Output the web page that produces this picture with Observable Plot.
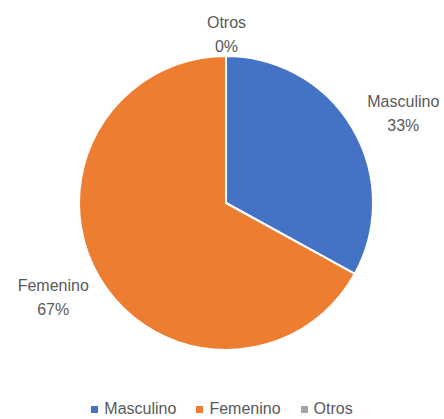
<!DOCTYPE html>
<html>
<head>
<meta charset="utf-8">
<script src="https://cdn.jsdelivr.net/npm/d3@7"></script>
<script src="https://cdn.jsdelivr.net/npm/@observablehq/plot@0.6"></script>
<style>
  html, body { margin: 0; padding: 0; background: #fff; overflow: hidden; }
  #chart { width: 444px; }
  .legend { display: flex; justify-content: center; align-items: center; height: 18px; line-height: 18px;
    font-family: "Liberation Sans", Arial, sans-serif; font-size: 16px; color: #595959; }
  .legend .item { display: flex; align-items: center; margin: 0 10px; }
  .legend .sw { width: 7px; height: 7px; margin-right: 6px; }
</style>
</head>
<body>
<div id="chart"></div>
<script>
const categories = ["Masculino", "Femenino", "Otros"];
const values = [33, 67, 0];
const labels = ["33%", "67%", "0%"];
const colors = ["#4472C4", "#ED7D31", "#A5A5A5"];

const W = 444, H = 400;
const cx = 226, cy = 203, R = 147;

const data = categories.map((c, i) => ({category: c, value: values[i], label: labels[i]}));
const color = Plot.scale({color: {domain: categories, range: colors}});
const arcs = d3.pie().sort(null).value(d => d.value)(data);

const fontSize = 16;
const lineH = 24;
const labelData = arcs.map(a => {
  const th = (a.startAngle + a.endAngle) / 2;
  const s = Math.sin(th), c = Math.cos(th);
  const w = a.data.category.length * 8.2;
  const h = lineH * 2;
  const pad = 25 * Math.abs(s);
  const x = cx + (R + pad) * s + (w / 2) * s;
  const y = cy - (R + pad) * c - (h / 2) * c * Math.abs(c);
  return {x, y, text: a.data.category + "\n" + a.data.label};
});

const pieMark = () => {
  const g = d3.create("svg:g");
  const arcGen = d3.arc().innerRadius(0).outerRadius(R);
  g.selectAll("path").data(arcs).join("path")
    .attr("transform", `translate(${cx},${cy})`)
    .attr("d", arcGen)
    .attr("fill", d => color.apply(d.data.category))
    .attr("stroke", "#fff")
    .attr("stroke-width", 2)
    .attr("stroke-linejoin", "round");
  return g.node();
};

const plot = Plot.plot({
  width: W,
  height: H,
  margin: 0,
  x: {type: "identity", axis: null},
  y: {type: "identity", axis: null},
  style: {fontFamily: "'Liberation Sans', Arial, sans-serif", background: "#fff"},
  marks: [
    pieMark,
    Plot.text(labelData, {x: "x", y: "y", text: "text", fontSize: fontSize, lineHeight: lineH / fontSize, fill: "#595959", textAnchor: "middle"})
  ]
});
document.getElementById("chart").appendChild(plot);

const legend = document.createElement("div");
legend.className = "legend";
categories.forEach((c, i) => {
  const item = document.createElement("div");
  item.className = "item";
  const sw = document.createElement("span");
  sw.className = "sw";
  sw.style.background = color.apply(c);
  const t = document.createElement("span");
  t.textContent = c;
  item.appendChild(sw); item.appendChild(t);
  legend.appendChild(item);
});
document.getElementById("chart").appendChild(legend);
</script>
</body>
</html>
